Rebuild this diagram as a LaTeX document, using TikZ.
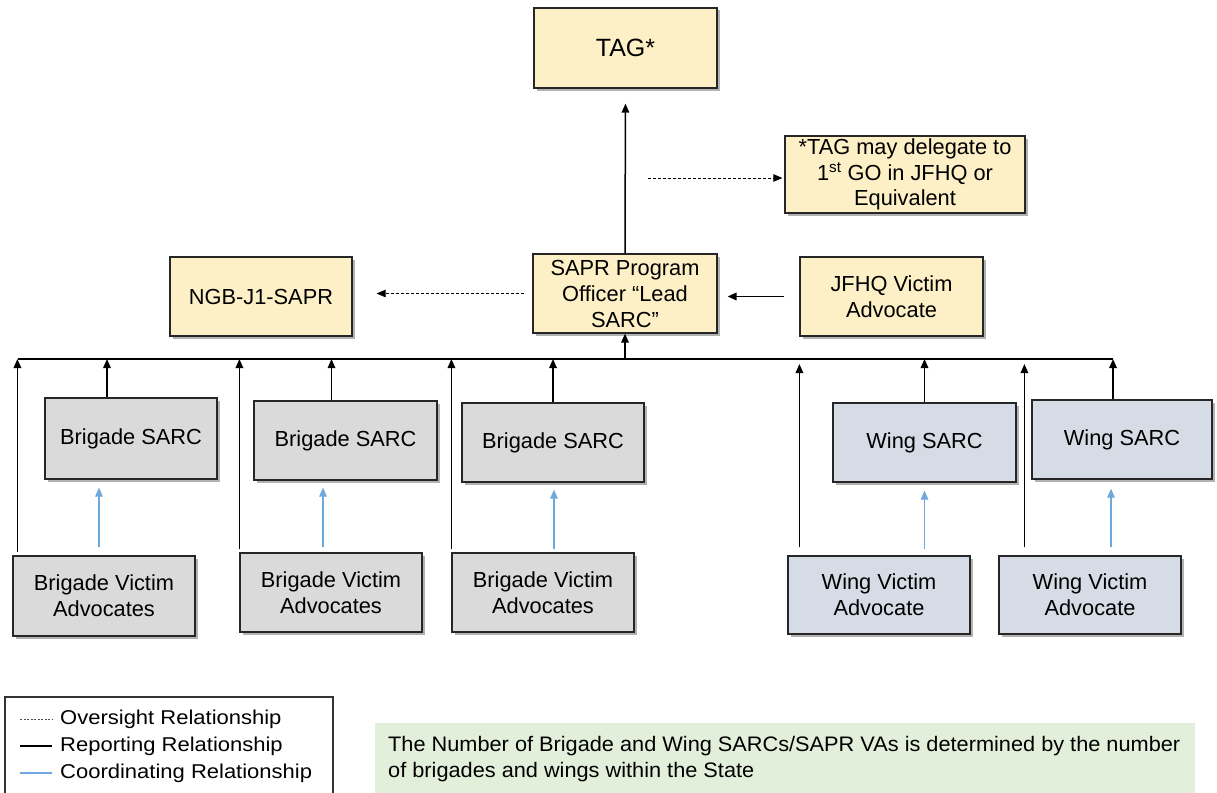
\documentclass[tikz,border=0pt]{standalone}
\usepackage{fontspec}
\setmainfont{Liberation Sans}
\newfontfamily\legfont[FakeStretch=1.1]{Liberation Sans}
\newfontfamily\notefont[FakeStretch=1.035]{Liberation Sans}
\usetikzlibrary{arrows.meta,shadows,calc}
\definecolor{yel}{HTML}{FDF0C6}
\definecolor{gry}{HTML}{DADADA}
\definecolor{wng}{HTML}{D6DCE5}
\definecolor{grn}{HTML}{E2EFDA}
\definecolor{blu}{HTML}{6FA8DC}
\begin{document}
\begin{tikzpicture}[x=1pt,y=-1pt,
  box/.style={draw=black!85, line width=1.2pt, align=center, inner sep=0pt,
    font=\fontsize{21.8}{26}\selectfont,
    drop shadow={shadow xshift=2.5pt,shadow yshift=-2.5pt,fill=black,opacity=0.3}},
  ybox/.style={box, fill=yel},
  gbox/.style={box, fill=gry},
  wbox/.style={box, fill=wng},
  rep/.style={draw=black, line width=1.5pt},
  reparrow/.style={rep, -{Triangle[width=7.5pt,length=9pt]}},
  over/.style={draw=black, line width=0.8pt, dash pattern=on 3pt off 2pt, -{Triangle[width=7.5pt,length=9pt]}},
  coord/.style={draw=blu, line width=1.2pt, -{Triangle[width=7.5pt,length=9pt]}},
  legtext/.style={anchor=west, inner sep=0pt, font=\legfont\fontsize{20}{22}\selectfont}
]
\useasboundingbox (0,0) rectangle (1217,792);

% top nodes
\node[ybox, minimum width=183pt, minimum height=80pt, font=\fontsize{25}{28}\selectfont] (tag) at (625.5,48) {TAG*};
\node[ybox, minimum width=240pt, minimum height=77pt, font=\fontsize{21.8}{25.5}\selectfont] (note) at (905,174.5) {*TAG may delegate to\\1\textsuperscript{st} GO in JFHQ or\\Equivalent};
\node[ybox, minimum width=184pt, minimum height=79pt] (sapr) at (625,293.5) {SAPR Program\\Officer “Lead\\SARC”};
\node[ybox, minimum width=182pt, minimum height=79pt] (ngb) at (261,296.5) {NGB-J1-SAPR};
\node[ybox, minimum width=183pt, minimum height=79pt] (jfhq) at (891.5,296.5) {JFHQ Victim\\Advocate};

% SARC nodes
\node[gbox, minimum width=172pt, minimum height=81pt] (bs1) at (131,438.5) {Brigade SARC};
\node[gbox, minimum width=183pt, minimum height=79pt] (bs2) at (345.5,440.5) {Brigade SARC};
\node[gbox, minimum width=182pt, minimum height=79pt] (bs3) at (553,442.5) {Brigade SARC};
\node[wbox, minimum width=183pt, minimum height=79pt] (ws1) at (924.5,442.5) {Wing SARC};
\node[wbox, minimum width=180pt, minimum height=79pt] (ws2) at (1122,439.5) {Wing SARC};

% VA nodes
\node[gbox, minimum width=182pt, minimum height=80pt] (bva1) at (104,596) {Brigade Victim\\Advocates};
\node[gbox, minimum width=182pt, minimum height=79pt] (bva2) at (331,592.5) {Brigade Victim\\Advocates};
\node[gbox, minimum width=182pt, minimum height=79pt] (bva3) at (543,592.5) {Brigade Victim\\Advocates};
\node[wbox, minimum width=182pt, minimum height=78pt] (wva1) at (879,595) {Wing Victim\\Advocate};
\node[wbox, minimum width=182pt, minimum height=78pt] (wva2) at (1090,595) {Wing Victim\\Advocate};

% bus
\coordinate (busL) at (18,359);
\coordinate (busR) at (1113,359);
\draw[rep] (busL) -- (busR);

% reporting lines to bus
\draw[reparrow] ([xshift=-24pt]bs1.north) -- ([xshift=-24pt]bs1.north |- busL);
\draw[reparrow] ([xshift=-14pt]bs2.north) -- ([xshift=-14pt]bs2.north |- busL);
\draw[reparrow] (bs3.north) -- (bs3.north |- busL);
\draw[reparrow] (ws1.north) -- (ws1.north |- busL);
\draw[reparrow] ([xshift=-9pt]ws2.north) -- ([xshift=-9pt]ws2.north |- busL);
\draw[reparrow] ([xshift=5pt,yshift=3pt]bva1.north west) -- ([xshift=5pt]bva1.north west |- busL);
\draw[reparrow] ([yshift=3pt]bva2.north west) -- (bva2.north west |- busL);
\draw[reparrow] ([yshift=3pt]bva3.north west) -- (bva3.north west |- busL);
\draw[reparrow, shorten >=5pt] ([xshift=12pt,yshift=8pt]wva1.north west) -- ([xshift=12pt]wva1.north west |- busL);
\draw[reparrow, shorten >=5pt] ([xshift=26pt,yshift=8pt]wva2.north west) -- ([xshift=26pt]wva2.north west |- busL);

% up the chain
\draw[reparrow] (sapr.south |- busL) -- (sapr.south);
\draw[reparrow, shorten >=15pt] (sapr.north) -- (tag.south);
\draw[reparrow, line width=1.9pt, shorten <=15pt, shorten >=10pt] (jfhq.west) -- (jfhq.west -| sapr.east);

% oversight
\draw[over, shorten <=8pt, shorten >=24pt] (sapr.west) -- (sapr.west -| ngb.east);
\coordinate (ns) at (648,178);
\draw[over, shorten >=2pt] (ns) -- (ns -| note.west);

% coordinating
\draw[coord, shorten <=8pt, shorten >=8pt] ([xshift=-5pt]bva1.north) -- ([xshift=-5pt]bva1.north |- bs1.south);
\draw[coord, shorten <=5pt, shorten >=7pt] ([xshift=-8pt]bva2.north) -- ([xshift=-8pt]bva2.north |- bs2.south);
\draw[coord, shorten <=3pt, shorten >=7pt] ([xshift=11pt]bva3.north) -- ([xshift=11pt]bva3.north |- bs3.south);
\draw[coord, shorten <=6pt, shorten >=8pt] (ws1.south |- wva1.north) -- (ws1.south);
\draw[coord, shorten <=8pt, shorten >=9pt] ([xshift=-11pt]ws2.south |- wva2.north) -- ([xshift=-11pt]ws2.south);

% legend
\draw[black!80, line width=1.2pt] (5,795) -- (5,697) -- (333,697) -- (333,795);
\coordinate (l1) at (20,719);
\coordinate (l2) at (20,746);
\coordinate (l3) at (20,773);
\coordinate (l1e) at (52,719);
\coordinate (l2e) at (52,746);
\coordinate (l3e) at (52,773);
\draw[black!70, line width=0.8pt, dash pattern=on 2pt off 1.5pt] (l1) -- (l1e);
\draw[black, line width=1.1pt] (l2) -- (l2e);
\draw[blu, line width=1.2pt] (l3) -- (l3e);
\node[legtext] (t1) at (60,719) {Oversight Relationship};
\node[legtext] (t2) at (60,746) {Reporting Relationship};
\node[legtext] (t3) at (60,773) {Coordinating Relationship};

% green note
\fill[grn] (375,723) rectangle (1195,795);
\node[anchor=north west, inner sep=0pt, align=left, font=\notefont\fontsize{21}{26}\selectfont] (gn) at (388,736) {The Number of Brigade and Wing SARCs/SAPR VAs is determined by the number\\of brigades and wings within the State};
\end{tikzpicture}
\end{document}
